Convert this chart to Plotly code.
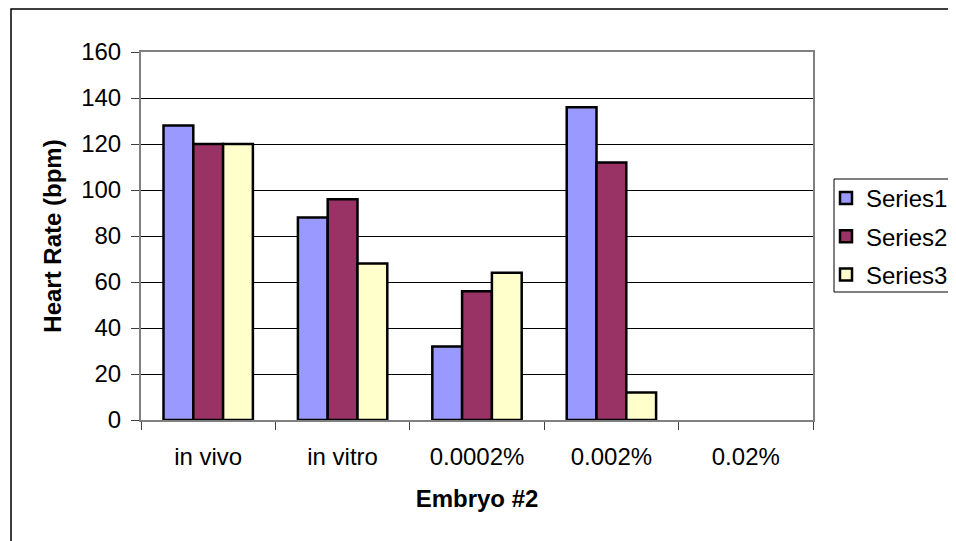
import plotly.graph_objects as go

categories = ["in vivo", "in vitro", "0.0002%", "0.002%", "0.02%"]
series1 = [128, 88, 32, 136, None]
series2 = [120, 96, 56, 112, None]
series3 = [120, 68, 64, 12, None]
series_names = ["Series1", "Series2", "Series3"]
colors = ["#9999FF", "#993366", "#FFFFCC"]
y_ticks = [0, 20, 40, 60, 80, 100, 120, 140, 160]

# page has an 8px body margin; figure is offset by (8, 8)
OFF = 8
W, H = 956 - OFF, 541 - OFF
PL, PR, PT, PB = 141, 813, 52, 420  # plot area in page pixels
L, R, T, B = PL - OFF, W - (PR - OFF), PT - OFF, H - (PB - OFF)
pw, ph = W - L - R, H - T - B

def px_x(p):  # page px -> paper x
    return (p - OFF - L) / pw

def px_y(p):  # page px -> paper y
    return (H - B - (p - OFF)) / ph

FONT = "Liberation Sans, Arial, sans-serif"

fig = go.Figure()
for name, vals, col in zip(series_names, [series1, series2, series3], colors):
    fig.add_trace(go.Bar(
        x=categories, y=vals, name=name, legendgroup=name,
        marker=dict(color=col, line=dict(color="black", width=2.5)),
    ))

fig.update_layout(
    width=W, height=H,
    margin=dict(l=L, r=R, t=T, b=B, autoexpand=False),
    paper_bgcolor="white", plot_bgcolor="white",
    barmode="group", bargap=0.335, bargroupgap=0,
    font=dict(family=FONT, size=24, color="black"),
    xaxis=dict(
        title=dict(text="<b>Embryo #2</b>", font=dict(size=24), standoff=21),
        showgrid=False, showline=True, linecolor="#808080", linewidth=2, mirror=True,
        ticks="outside", tickson="boundaries", ticklen=8, tickcolor="#404040",
        tickfont=dict(size=24), ticklabelstandoff=14,
    ),
    yaxis=dict(
        title=dict(text="<b>Heart Rate (bpm)</b>", font=dict(size=24), standoff=13),
        range=[0, 160], tickvals=y_ticks, showgrid=True, gridcolor="black", gridwidth=1,
        showline=True, linecolor="#808080", linewidth=2, mirror=True,
        ticks="outside", ticklen=8, tickcolor="#404040", zeroline=False,
        tickfont=dict(size=24), ticklabelstandoff=5,
    ),
    legend=dict(
        x=px_x(826), y=px_y(176), xanchor="left", yanchor="top",
        borderwidth=0, bgcolor="rgba(0,0,0,0)",
        font=dict(size=24), traceorder="grouped", tracegroupgap=4,
        itemwidth=30,
    ),
    shapes=[
        dict(
            type="rect", xref="paper", yref="paper",
            x0=px_x(11), x1=px_x(1000), y0=px_y(600), y1=px_y(9),
            line=dict(color="black", width=1.5), fillcolor="rgba(0,0,0,0)", layer="below",
        ),
        dict(
            type="rect", xref="paper", yref="paper",
            x0=px_x(834), x1=px_x(1000), y0=px_y(292), y1=px_y(179),
            line=dict(color="black", width=1), fillcolor="white", layer="below",
        ),
    ],
)

fig.write_html("out.html")
